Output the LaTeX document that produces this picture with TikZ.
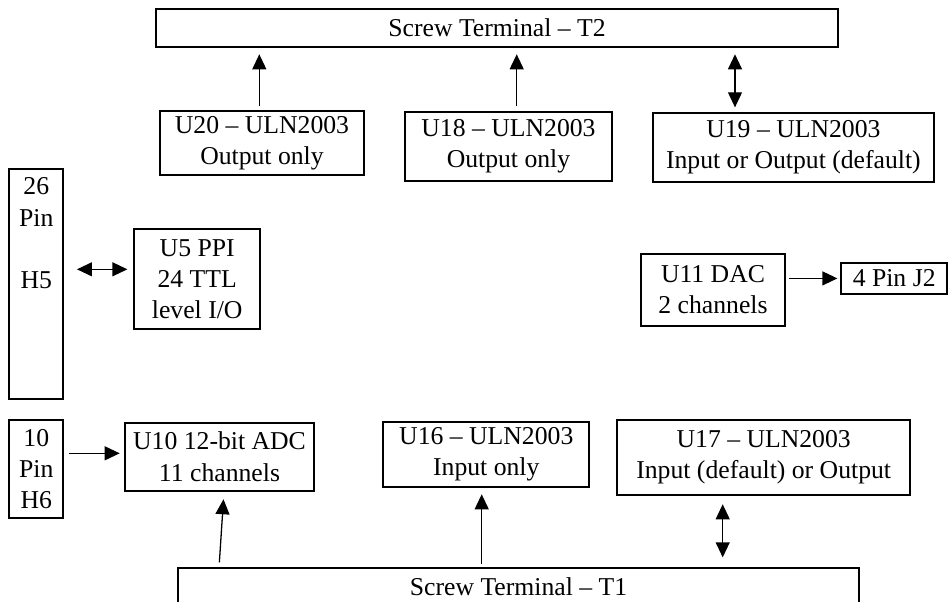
\documentclass[tikz,border=0pt]{standalone}
\usepackage{fontspec}
\setmainfont{Liberation Serif}
\usetikzlibrary{arrows.meta, positioning}
\newlength\px
\setlength\px{0.467pt}

\begin{document}
\begin{tikzpicture}[
            x=\px, y=-\px,
            box/.style={draw, line width=0.9pt, align=center, inner sep=2pt, font=\fontsize{12}{14.5}\selectfont},
            arr/.style={-{Triangle[length=7pt, width=6.5pt]}, line width=0.6pt},
            dblarr/.style={{Triangle[length=7pt, width=6.5pt]}-{Triangle[length=7pt, width=6.5pt]}, line width=0.6pt}
        ]
        \useasboundingbox (0,0) rectangle (948,601);
        \clip (0,0) rectangle (948,601);

        % Nodes (manual layout to match figure)
        \node[box, minimum width=682.6\px, minimum height=37.4\px] (t2) at (497,28) {Screw Terminal -- T2};
        \node[box, minimum width=204\px, minimum height=64.3\px] (u20) at (262,142.9) {U20 -- ULN2003\\Output only};
        \node[box, minimum width=207\px, minimum height=68.4\px] (u18) at (508.5,146.5) {U18 -- ULN2003\\Output only};
        \node[box, minimum width=281\px, minimum height=69\px] (u19) at (793.4,147.2) {U19 -- ULN2003\\Input or Output (default)};

        \node[box, minimum width=54\px, minimum height=230\px] (h5) at (36.3,284.3) {};
        \node[anchor=north, align=center, inner sep=0pt, font=\fontsize{12}{14.5}\selectfont] (h5text) at ([yshift=-4.3pt]h5.north) {26\\Pin\\[14.5pt]H5};
        \node[box, minimum width=125.7\px, minimum height=100\px] (u5) at (197.2,279.3) {U5 PPI\\24 TTL\\level I/O};
        \node[box, minimum width=144.6\px, minimum height=71.4\px] (u11) at (713,290) {U11 DAC\\2 channels};
        \node[box, minimum width=105.7\px, minimum height=31.3\px] (j2) at (894.2,278.4) {4 Pin J2};

        \node[box, minimum width=54\px, minimum height=98.3\px] (h6) at (36.3,469.2) {10\\Pin\\H6};
        \node[box, minimum width=189\px, minimum height=68\px] (u10) at (219.5,456.7) {U10 12-bit ADC\\11 channels};
        \node[box, minimum width=206\px, minimum height=64.4\px] (u16) at (486.3,454.5) {U16 -- ULN2003\\Input only};
        \node[box, minimum width=292.7\px, minimum height=75\px] (u17) at (763.7,457.5) {U17 -- ULN2003\\Input (default) or Output};
        \node[box, minimum width=681.6\px, minimum height=37.4\px] (t1) at (518.5,587) {Screw Terminal -- T1};

        % Edges

        \draw[arr, shorten <=3.4\px, shorten >=6.6\px] ([xshift=-2.7\px]u20.north) -- ([xshift=-2.7\px]u20.north |- t2.south);
        \draw[arr, shorten <=5\px, shorten >=6.6\px] ([xshift=8.2\px]u18.north) -- ([xshift=8.2\px]u18.north |- t2.south);
        \draw[dblarr, shorten <=4.4\px, shorten >=6.6\px] ([xshift=-58.4\px]u19.north) -- ([xshift=-58.4\px]u19.north |- t2.south);

        \draw[dblarr, shorten <=12.7\px, shorten >=6\px] ([yshift=10\px]u5.west -| h5.east) -- ([yshift=10\px]u5.west);
        \draw[arr, shorten <=3\px, shorten >=3\px] (u11.east |- j2.west) -- (j2.west);

        \draw[arr, shorten <=5\px, shorten >=4.3\px] ([yshift=3.4\px]u10.west -| h6.east) -- ([yshift=3.4\px]u10.west);
        \draw[arr, shorten <=5\px, shorten >=7.6\px] ([xshift=42.3\px]t1.north west) -- ([xshift=4.5\px]u10.south);
        \draw[arr, shorten <=3.3\px, shorten >=6.6\px] ([xshift=-4.6\px]u16.south |- t1.north) -- ([xshift=-4.6\px]u16.south);
        \draw[dblarr, shorten <=8.3\px, shorten >=10\px] ([xshift=-41\px]u17.south) -- ([xshift=-41\px]u17.south |- t1.north);

        \end{tikzpicture}
\end{document}
